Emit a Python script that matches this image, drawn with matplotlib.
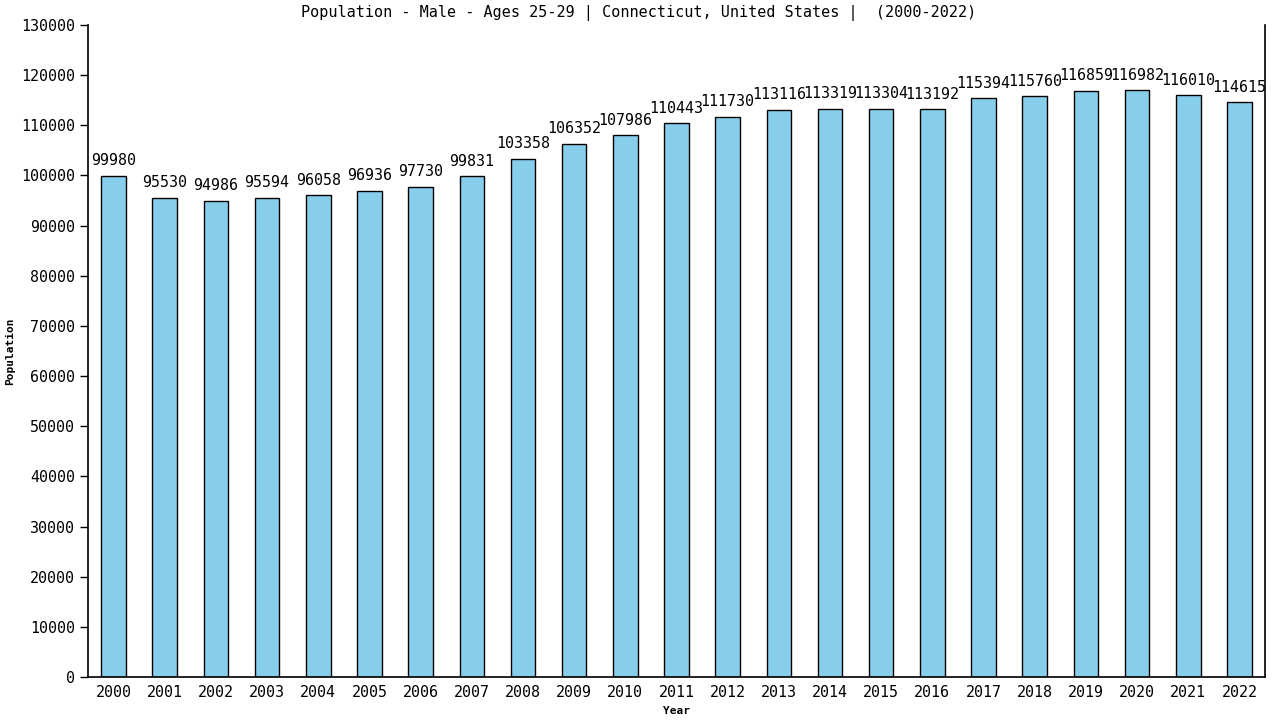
import matplotlib
matplotlib.use("Agg")
import matplotlib.pyplot as plt

years = [str(y) for y in range(2000, 2023)]
population = [99980, 95530, 94986, 95594, 96058, 96936, 97730, 99831, 103358, 106352,
              107986, 110443, 111730, 113116, 113319, 113304, 113192, 115394, 115760,
              116859, 116982, 116010, 114615]
yticks = list(range(0, 130001, 10000))

plt.rcParams['font.family'] = ['DejaVu Sans Mono']

fig = plt.figure(figsize=(12.8, 7.2), dpi=100)
ax = fig.add_axes([88/1280, 1-677/720, (1265-88)/1280, (677-25)/720])

x = list(range(len(years)))
ax.bar(x, population, width=0.48, color='#87ceeb', edgecolor='black', linewidth=1.0)
for xi, v in zip(x, population):
    ax.text(xi, v + 1500, str(v), ha='center', va='bottom', fontsize=10.8)

ax.set_xlim(-0.5, len(years) - 0.5)
ax.set_ylim(0, 130000)
ax.set_xticks(x)
ax.set_xticklabels(years, fontsize=10.8)
ax.set_yticks(yticks)
ax.set_yticklabels([str(t) for t in yticks], fontsize=10.8)
ax.tick_params(axis='x', length=0, pad=6)
ax.tick_params(axis='y', length=6, direction='out', width=1)
ax.spines['top'].set_visible(False)
for s in ['left', 'right', 'bottom']:
    ax.spines[s].set_linewidth(1.2)

fig.text(639/1280, 1-13/720,
         'Population - Male - Ages 25-29 | Connecticut, United States |  (2000-2022)',
         ha='center', va='center', fontsize=10.9)
ax.set_xlabel('Year', fontsize=8, fontweight='bold', labelpad=4)
ax.set_ylabel('Population', fontsize=8, fontweight='bold', labelpad=4)

fig.savefig('out.png', dpi=100)
